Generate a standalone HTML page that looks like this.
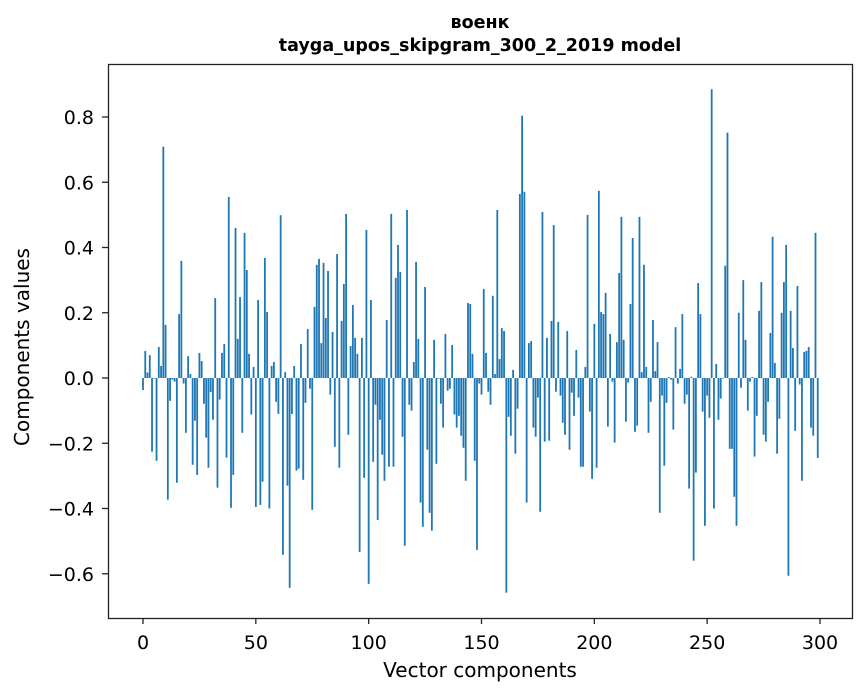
<!DOCTYPE html>
<html><head><meta charset="utf-8"><style>
body{margin:0;background:#fff;}
svg{display:block;font-family:"DejaVu Sans","Liberation Sans",sans-serif;}
</style></head><body>
<svg id="chart" width="867" height="696">
<rect x="0" y="0" width="867" height="696" fill="#fff"/>
<text x="480" y="28" font-size="17.5" font-weight="bold" text-anchor="middle">военк</text>
<text x="480" y="51" font-size="17.5" font-weight="bold" text-anchor="middle">tayga_upos_skipgram_300_2_2019 model</text>
<g id="bars"></g>
<g id="xticks"></g>
<g id="yticks"></g>
<rect x="108.5" y="64.5" width="744" height="554" fill="none" stroke="#222" stroke-width="1.3"/>
<text x="480" y="677" font-size="20" text-anchor="middle">Vector components</text>
<text transform="translate(29,347) rotate(-90)" font-size="20" text-anchor="middle">Components values</text>
</svg>
<script>
const values = [
-0.037,0.083,0.017,0.07,-0.226,-0.002,-0.254,0.095,0.037,0.709,
0.163,-0.373,-0.07,-0.005,-0.011,-0.321,0.196,0.359,-0.017,-0.168,
0.067,0.012,-0.266,-0.131,-0.297,0.077,0.052,-0.079,-0.183,-0.275,
-0.043,-0.128,0.245,-0.336,-0.066,0.077,0.104,-0.244,0.555,-0.398,
-0.297,0.46,0.12,0.248,-0.168,0.445,0.331,0.074,-0.112,0.034,
-0.395,0.239,-0.389,-0.318,0.368,0.202,-0.40,0.037,0.049,-0.073,
-0.11,0.499,-0.542,0.018,-0.33,-0.643,-0.11,0.037,-0.284,-0.278,
0.104,-0.312,-0.076,0.15,-0.033,-0.404,0.218,0.347,0.365,0.107,
0.353,0.184,0.328,-0.051,0.141,-0.211,0.38,-0.275,0.175,0.288,
0.503,-0.174,0.098,0.224,0.123,0.074,-0.533,0.123,-0.306,0.454,
-0.631,0.239,-0.257,-0.082,-0.435,-0.128,-0.235,-0.315,0.178,-0.272,
0.503,-0.272,0.307,0.408,0.325,-0.18,-0.514,0.515,-0.082,-0.1,
0.049,0.356,0.12,-0.382,-0.456,0.279,-0.22,-0.413,-0.468,0.117,
-0.263,-0.002,-0.079,-0.152,0.135,-0.039,-0.033,0.101,-0.112,-0.152,
-0.116,-0.177,-0.214,-0.315,0.23,0.227,0.074,-0.254,-0.527,-0.017,
-0.051,0.273,0.077,-0.042,-0.082,0.252,0.012,0.515,0.058,0.153,
0.144,-0.658,-0.119,-0.177,0.025,-0.232,-0.094,0.564,0.804,0.571,
-0.382,0.107,0.113,-0.152,-0.18,-0.06,-0.41,0.509,-0.195,0.123,
-0.192,0.175,0.469,-0.042,0.172,-0.054,-0.137,-0.174,0.144,-0.22,
-0.045,-0.116,0.086,-0.06,-0.272,-0.272,0.034,0.5,-0.103,-0.309,
0.166,-0.275,0.574,0.202,0.196,0.261,-0.149,0.135,-0.011,-0.198,
0.11,0.322,0.494,0.117,-0.134,-0.014,0.227,0.429,-0.165,-0.146,
0.494,0.018,0.347,0.034,-0.168,-0.073,0.178,0.021,0.11,-0.413,
-0.054,-0.269,-0.076,0.003,-0.005,-0.158,0.156,-0.017,0.028,0.196,
-0.079,-0.051,-0.339,0.004,-0.56,-0.29,0.291,0.196,-0.103,-0.453,
-0.054,-0.122,0.885,-0.4,0.043,-0.128,-0.063,-0.002,0.344,0.752,
-0.217,-0.217,-0.364,-0.453,0.2,-0.03,0.3,0.117,-0.1,-0.011,
0.003,-0.241,-0.116,0.206,0.294,-0.174,-0.195,-0.073,0.138,0.433,
0.046,-0.232,-0.125,0.2,0.294,0.408,-0.606,0.206,0.092,-0.162,
0.282,-0.02,-0.315,0.08,0.083,0.095,-0.152,-0.177,0.445,-0.245
];
const xTicks = [0,50,100,150,200,250,300];
const yTicks = [-0.6,-0.4,-0.2,0.0,0.2,0.4,0.6,0.8];
const yTickLabels = ["\u22120.6","\u22120.4","\u22120.2","0.0","0.2","0.4","0.6","0.8"];

const NS = "http://www.w3.org/2000/svg";
function xScale(i){ return 143 + i * (677/300); }
function yScale(v){ return 378 - v * 326.25; }
const barW = 0.8 * (677/300);
const gb = document.getElementById('bars');
values.forEach((v,i)=>{
  const r = document.createElementNS(NS,'rect');
  const y0 = yScale(0), y1 = yScale(v);
  r.setAttribute('x', xScale(i) - barW/2);
  r.setAttribute('y', Math.min(y0,y1));
  r.setAttribute('width', barW);
  r.setAttribute('height', Math.max(Math.abs(y1-y0),0.3));
  r.setAttribute('fill', '#1f77b4');
  
  
  gb.appendChild(r);
});
const gx = document.getElementById('xticks');
xTicks.forEach(t=>{
  const x = xScale(t);
  const l = document.createElementNS(NS,'line');
  l.setAttribute('x1',x);l.setAttribute('x2',x);l.setAttribute('y1',618);l.setAttribute('y2',624);
  l.setAttribute('stroke','#222');l.setAttribute('stroke-width','1.3');
  
  
  gx.appendChild(l);
  const tx = document.createElementNS(NS,'text');
  tx.setAttribute('x',x);tx.setAttribute('y',649);tx.setAttribute('font-size','19');tx.setAttribute('text-anchor','middle');
  tx.textContent = t;
  
  
  gx.appendChild(tx);
});
const gy = document.getElementById('yticks');
yTicks.forEach((t,k)=>{
  const y = yScale(t);
  const l = document.createElementNS(NS,'line');
  l.setAttribute('x1',102);l.setAttribute('x2',108);l.setAttribute('y1',y);l.setAttribute('y2',y);
  l.setAttribute('stroke','#222');l.setAttribute('stroke-width','1.3');
  
  
  gy.appendChild(l);
  const tx = document.createElementNS(NS,'text');
  tx.setAttribute('x',94);tx.setAttribute('y',y+7);tx.setAttribute('font-size','19');tx.setAttribute('text-anchor','end');
  tx.textContent = yTickLabels[k];
  
  
  gy.appendChild(tx);
});
</script>
</body></html>
